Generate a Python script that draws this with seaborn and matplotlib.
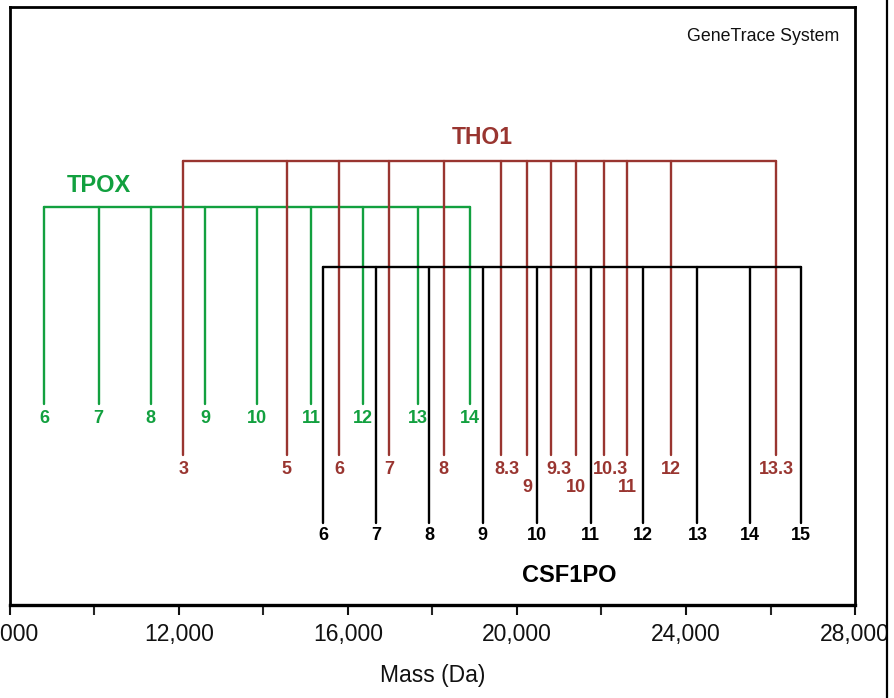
import matplotlib
matplotlib.use("Agg")
import matplotlib.pyplot as plt
from matplotlib.lines import Line2D
from matplotlib.ticker import FuncFormatter, MultipleLocator
import pandas as pd
import seaborn as sns

# Allele ladders: repeat-number labels and observed masses (Da)
tpox_alleles = ["6", "7", "8", "9", "10", "11", "12", "13", "14"]
tpox_mass = [8810, 10100, 11330, 12615, 13840, 15130, 16350, 17655, 18890]

tho1_alleles = ["3", "5", "6", "7", "8", "8.3", "9", "9.3", "10", "10.3", "11", "12", "13.3"]
tho1_mass = [12100, 14550, 15795, 16980, 18265, 19615, 20245, 20805, 21390, 22060, 22610, 23650, 26130]

csf_alleles = ["6", "7", "8", "9", "10", "11", "12", "13", "14", "15"]
csf_mass = [15415, 16665, 17925, 19190, 20480, 21745, 22990, 24270, 25520, 26720]

x_ticks = [8000, 12000, 16000, 20000, 24000, 28000]

GREEN = "#12a03f"
BROWN = "#993530"
BLACK = "#000000"

# Vertical layout of each ladder (top of frame = 7, bottom = 605)
layout = {
    "TPOX":   dict(bar=207, drop=404, label=418, color=GREEN),
    "THO1":   dict(bar=161, drop=455, label=469, color=BROWN),
    "CSF1PO": dict(bar=267, drop=523, label=535, color=BLACK),
}
tho1_lower_row = {"9", "10", "11"}
tho1_low_label = 487
label_nudge = {"8.3": 150, "9.3": 180, "10.3": 160}

ladders = {
    "TPOX": (tpox_alleles, tpox_mass),
    "THO1": (tho1_alleles, tho1_mass),
    "CSF1PO": (csf_alleles, csf_mass),
}

# Build line segments: one crossbar plus one drop line per allele
rows = []
for locus, (alleles, masses) in ladders.items():
    lay = layout[locus]
    seg = f"{locus}-bar"
    rows.append((locus, seg, 0, min(masses), lay["bar"]))
    rows.append((locus, seg, 1, max(masses), lay["bar"]))
    for a, m in zip(alleles, masses):
        seg = f"{locus}-{a}"
        rows.append((locus, seg, 0, m, lay["bar"]))
        rows.append((locus, seg, 1, m, lay["drop"]))
df = pd.DataFrame(rows, columns=["locus", "seg", "order", "mass", "y"])

sns.set_theme(style="white")
plt.rcParams["font.family"] = ["Liberation Sans", "DejaVu Sans"]

fig = plt.figure(figsize=(8.94, 6.98), dpi=100)
ax = fig.add_axes([10 / 894, 1 - 605 / 698, 845 / 894, 598 / 698])

sns.lineplot(
    data=df, x="mass", y="y", hue="locus", units="seg", estimator=None,
    sort=False, palette={k: v["color"] for k, v in layout.items()},
    linewidth=1.7, legend=False, ax=ax,
)

# Allele labels
for locus, (alleles, masses) in ladders.items():
    lay = layout[locus]
    for a, m in zip(alleles, masses):
        y = lay["label"]
        if locus == "THO1" and a in tho1_lower_row:
            y = tho1_low_label
        ax.text(m + label_nudge.get(a, 0) * (locus == "THO1"), y, a,
                ha="center", va="center", fontsize=13, fontweight="bold",
                color=lay["color"])

# Locus names
ax.text(10100, 185, "TPOX", ha="center", va="center", fontsize=17,
        fontweight="bold", color=GREEN)
ax.text(19180, 137, "THO1", ha="center", va="center", fontsize=16.5,
        fontweight="bold", color=BROWN)
ax.text(21230, 575, "CSF1PO", ha="center", va="center", fontsize=17,
        fontweight="bold", color=BLACK)
ax.text(0.981, 0.950, "GeneTrace System", transform=ax.transAxes,
        ha="right", va="center", fontsize=12.8, color="#111111")

ax.set_xlim(8000, 28000)
ax.set_ylim(605, 7)
ax.set_xticks(x_ticks)
ax.xaxis.set_minor_locator(MultipleLocator(2000))
ax.xaxis.set_major_formatter(FuncFormatter(lambda v, p: f"{int(v):,}"))
ax.set_yticks([])
ax.set_xlabel("Mass (Da)", fontsize=16.5, labelpad=13, color="#111111")
ax.set_ylabel("")
ax.tick_params(axis="x", which="major", direction="out", length=7, width=1.5,
               pad=6, labelsize=16.5, colors="#111111", bottom=True)
ax.tick_params(axis="x", which="minor", direction="out", length=7, width=1.5,
               bottom=True)
for side, spine in ax.spines.items():
    spine.set_visible(True)
    spine.set_color("black")
    spine.set_linewidth(2.0)
ax.spines["bottom"].set_linewidth(2.4)

# Edge of the neighbouring panel at the far right
fig.add_artist(Line2D([887 / 894, 887 / 894], [0, 1], transform=fig.transFigure,
                      color="black", linewidth=1.6))

fig.savefig("out.png", dpi=100)
